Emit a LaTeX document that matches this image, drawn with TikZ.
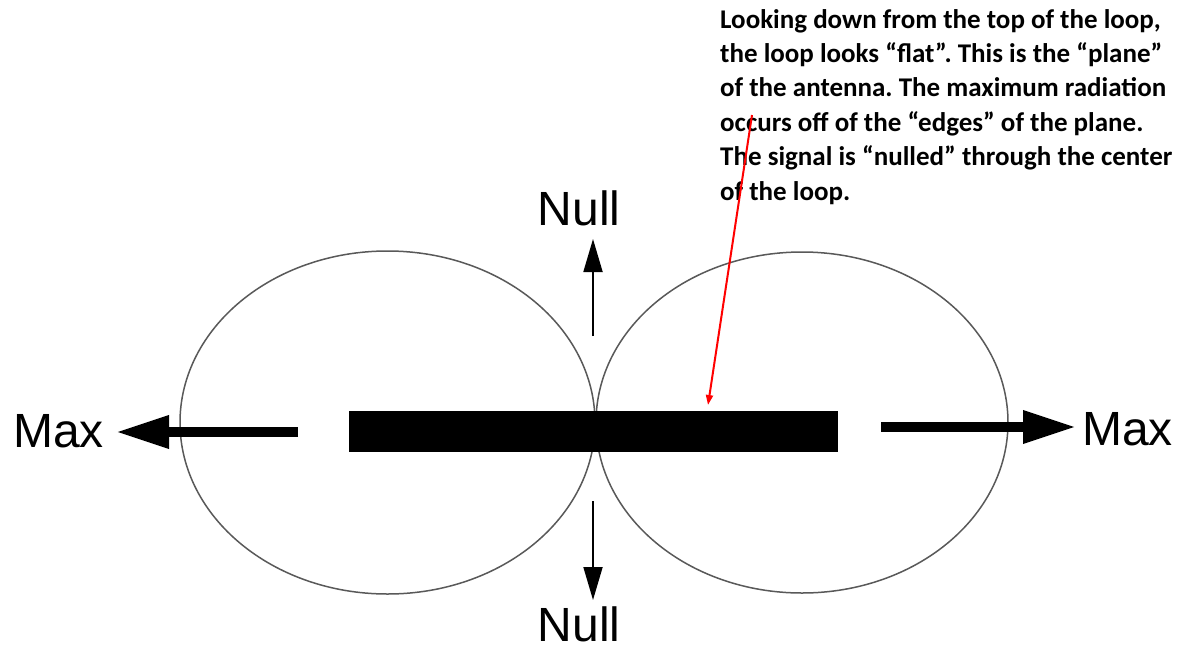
\documentclass[tikz,border=0pt]{standalone}
\usepackage{fontspec}
\newfontfamily\calloutfont{Carlito}
\newfontfamily\labelfont{Liberation Sans}
\usetikzlibrary{arrows.meta,shapes.geometric}
\frenchspacing
\begin{document}
\begin{tikzpicture}[x=1pt,y=-1pt,
  lobe/.style={draw=black!65,line width=1.5pt,ellipse,inner sep=0pt},
  bigword/.style={font=\labelfont\fontsize{48}{48}\selectfont,inner sep=0pt},
  maxarrow/.style={line width=9.5pt,-{Triangle[length=53pt,width=31pt]}},
  nullarrow/.style={line width=1.8pt,-{Triangle[length=33pt,width=19pt]}},
  callout/.style={font=\calloutfont\bfseries\fontsize{27}{34.4}\selectfont,align=left,inner sep=0pt,anchor=north west},
  pointer/.style={draw=red,line width=2pt,-{Triangle[length=10pt,width=7pt]}}]
\useasboundingbox[fill=white] (0,0) rectangle (1181,649);
% radiation lobes
\node[lobe,minimum width=415pt,minimum height=343pt] (leftlobe) at (387.5,422.5) {};
\node[lobe,minimum width=412pt,minimum height=341pt] (rightlobe) at (802,422.5) {};
% antenna bar
\node[fill=black,inner sep=0pt,minimum width=489pt,minimum height=41pt] (bar) at (593.5,431.5) {};
% labels
\node[bigword,anchor=base east] (maxleft) at (104,447) {Max};
\node[bigword,anchor=base west] (maxright) at (1082,445) {Max};
\node[bigword,anchor=base] (nulltop) at (579,225) {Null};
\node[bigword,anchor=base] (nullbottom) at (579,641) {Null};
% arrow ends
\coordinate (lmaxstart) at (298,432);
\coordinate (lmaxtip) at (116,432);
\coordinate (rmaxstart) at (881,427);
\coordinate (rmaxtip) at (1076,427);
\coordinate (nullupstart) at (593,336);
\coordinate (nulluptip) at (593,239);
\coordinate (nulldownstart) at (593,501);
\coordinate (nulldowntip) at (593,600);
\draw[maxarrow] (lmaxstart) -- (lmaxtip);
\draw[maxarrow] (rmaxstart) -- (rmaxtip);
\draw[nullarrow] (nullupstart) -- (nulluptip);
\draw[nullarrow] (nulldownstart) -- (nulldowntip);
% callout
\node[callout] (note) at (720,9) {Looking down from the top of the loop,\\the loop looks “flat”. This is the “plane”\\of the antenna. The maximum radiation\\occurs off of the “edges” of the plane.\\The signal is “nulled” through the center\\of the loop.};
\coordinate (redstart) at (752,115);
\coordinate (redtip) at (708,405);
\draw[pointer] (redstart) -- (redtip);
\end{tikzpicture}
\end{document}
